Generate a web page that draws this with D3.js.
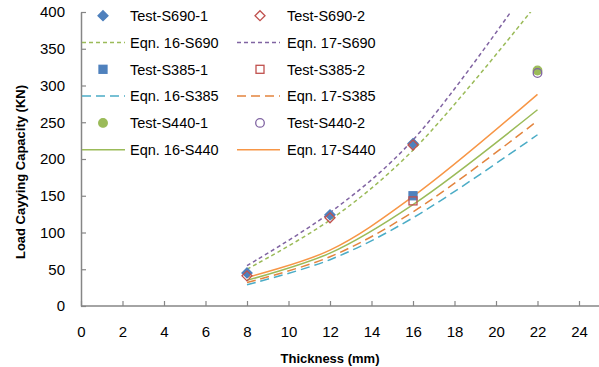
<!DOCTYPE html>
<html>
<head>
<meta charset="utf-8">
<script src="https://cdn.jsdelivr.net/npm/d3@7"></script>
<style>
  body { margin: 0; background: #fff; }
  svg { display: block; font-family: "Liberation Sans", Arial, sans-serif; }
</style>
</head>
<body>
<svg id="chart" width="599" height="367"></svg>
<script>
// thickness (mm) where the equations were evaluated
const thickness = [8, 12, 16, 22];

// equation curves (kN)
const eqn16S690 = [50, 117, 212, 412];
const eqn17S690 = [55, 127, 226, 452];
const eqn16S385 = [29, 63, 120, 233];
const eqn17S385 = [32, 67, 128, 252];
const eqn16S440 = [35, 72, 138, 267];
const eqn17S440 = [39, 76, 149, 288];

// test results
const thkS690 = [8, 12, 16];
const testS690_1 = [45, 124, 221];
const testS690_2 = [41, 120, 219];
const thkS385 = [16];
const testS385_1 = [150];
const testS385_2 = [143];
const thkS440 = [22];
const testS440_1 = [320.5];
const testS440_2 = [317];

const xTicks = [0, 2, 4, 6, 8, 10, 12, 14, 16, 18, 20, 22, 24];
const yTicks = [0, 50, 100, 150, 200, 250, 300, 350, 400];

const svg = d3.select('#chart');
const margin = { top: 12, left: 81, bottom: 306 };

const x = d3.scaleLinear().domain([0, 26]).range([margin.left, 620.5]);
const y = d3.scaleLinear().domain([0, 400]).range([margin.bottom, margin.top]);

svg.append('defs').append('clipPath').attr('id', 'plot')
    .append('rect')
    .attr('x', margin.left).attr('y', margin.top)
    .attr('width', 599 - margin.left).attr('height', margin.bottom - margin.top);

// axes
const axisColor = '#868686';
const xAxis = svg.append('g')
    .attr('transform', `translate(0,${margin.bottom})`)
    .call(d3.axisBottom(x).tickValues(xTicks).tickSize(-5).tickPadding(20).tickSizeOuter(0));
const yAxis = svg.append('g')
    .attr('transform', `translate(${margin.left},0)`)
    .call(d3.axisLeft(y).tickValues(yTicks).tickSize(-5).tickPadding(16).tickSizeOuter(0));

[xAxis, yAxis].forEach(a => {
    a.select('.domain').attr('stroke', axisColor).attr('stroke-width', 1.5);
    a.selectAll('.tick line').attr('stroke', axisColor).attr('stroke-width', 1.2);
    a.selectAll('.tick text')
        .attr('fill', '#000')
        .style('font-size', '15px')
        .style('font-family', '"Liberation Sans", Arial, sans-serif');
});
xAxis.select('.domain').attr('d', `M${margin.left},0H599`);

// axis titles
svg.append('text')
    .attr('x', 330).attr('y', 363)
    .attr('text-anchor', 'middle')
    .style('font-size', '13px').style('font-weight', 'bold')
    .text('Thickness  (mm)');
svg.append('text')
    .attr('transform', 'translate(25,172) rotate(-90)')
    .attr('text-anchor', 'middle')
    .style('font-size', '13px').style('font-weight', 'bold')
    .text('Load Cayying Capacity  (KN)');

// series styles
const lineSeries = [
    { name: 'Eqn. 16-S690', values: eqn16S690, color: '#9BBB59', dash: '4,3', width: 1.5 },
    { name: 'Eqn. 17-S690', values: eqn17S690, color: '#8064A2', dash: '4,3', width: 1.5 },
    { name: 'Eqn. 16-S385', values: eqn16S385, color: '#4BACC6', dash: '9,5', width: 1.5 },
    { name: 'Eqn. 17-S385', values: eqn17S385, color: '#E3843E', dash: '9,5', width: 1.5 },
    { name: 'Eqn. 16-S440', values: eqn16S440, color: '#9BBB59', dash: null, width: 1.5 },
    { name: 'Eqn. 17-S440', values: eqn17S440, color: '#F79646', dash: null, width: 1.5 }
];

const pointSeries = [
    { name: 'Test-S690-1', xs: thkS690, values: testS690_1, shape: 'diamond', fill: '#4F81BD', stroke: '#4F81BD' },
    { name: 'Test-S690-2', xs: thkS690, values: testS690_2, shape: 'diamond', fill: 'none', stroke: '#C0504D' },
    { name: 'Test-S385-1', xs: thkS385, values: testS385_1, shape: 'square', fill: '#4F81BD', stroke: '#4F81BD' },
    { name: 'Test-S385-2', xs: thkS385, values: testS385_2, shape: 'square', fill: 'none', stroke: '#C0504D' },
    { name: 'Test-S440-1', xs: thkS440, values: testS440_1, shape: 'circle', fill: '#9BBB59', stroke: '#9BBB59' },
    { name: 'Test-S440-2', xs: thkS440, values: testS440_2, shape: 'circle', fill: 'none', stroke: '#8064A2' }
];

function drawMarker(g, shape, cx, cy, fill, stroke) {
    if (shape === 'diamond') {
        g.append('path')
            .attr('d', `M${cx},${cy - 5}L${cx + 5},${cy}L${cx},${cy + 5}L${cx - 5},${cy}Z`)
            .attr('fill', fill).attr('stroke', stroke).attr('stroke-width', 1.3);
    } else if (shape === 'square') {
        g.append('rect')
            .attr('x', cx - 4).attr('y', cy - 4).attr('width', 8).attr('height', 8)
            .attr('fill', fill).attr('stroke', stroke).attr('stroke-width', 1.3);
    } else {
        g.append('circle')
            .attr('cx', cx).attr('cy', cy).attr('r', 4.3)
            .attr('fill', fill).attr('stroke', stroke).attr('stroke-width', 1.3);
    }
}

const plot = svg.append('g').attr('clip-path', 'url(#plot)');
const line = d3.line()
    .x((d, i) => x(thickness[i]))
    .y(d => y(d))
    .curve(d3.curveCatmullRom.alpha(0.5));

// legend order: tests then equations per steel grade
const order = [
    ['p', 0], ['p', 1], ['l', 0], ['l', 1],
    ['p', 2], ['p', 3], ['l', 2], ['l', 3],
    ['p', 4], ['p', 5], ['l', 4], ['l', 5]
];

// lines first, then markers on top
lineSeries.forEach(s => {
    plot.append('path')
        .attr('d', line(s.values))
        .attr('fill', 'none')
        .attr('stroke', s.color)
        .attr('stroke-width', s.width)
        .attr('stroke-dasharray', s.dash);
});
pointSeries.forEach(s => {
    const g = plot.append('g');
    s.values.forEach((v, i) => drawMarker(g, s.shape, x(s.xs[i]), y(v), s.fill, s.stroke));
});

// legend, two columns
const legend = svg.append('g');
const col = [{ sample: 82, marker: 103, text: 130 }, { sample: 237, marker: 260, text: 287 }];
order.forEach(([kind, idx], k) => {
    const row = Math.floor(k / 2), c = col[k % 2];
    const cy = 15.7 + row * 26.8;
    let name;
    if (kind === 'p') {
        const s = pointSeries[idx];
        drawMarker(legend, s.shape, c.marker, cy, s.fill, s.stroke);
        name = s.name;
    } else {
        const s = lineSeries[idx];
        legend.append('line')
            .attr('x1', c.sample).attr('x2', c.sample + 43)
            .attr('y1', cy).attr('y2', cy)
            .attr('stroke', s.color).attr('stroke-width', s.width)
            .attr('stroke-dasharray', s.dash);
        name = s.name;
    }
    legend.append('text')
        .attr('x', c.text).attr('y', cy).attr('dy', '0.36em')
        .style('font-size', '14.5px')
        .text(name);
});
</script>
</body>
</html>
